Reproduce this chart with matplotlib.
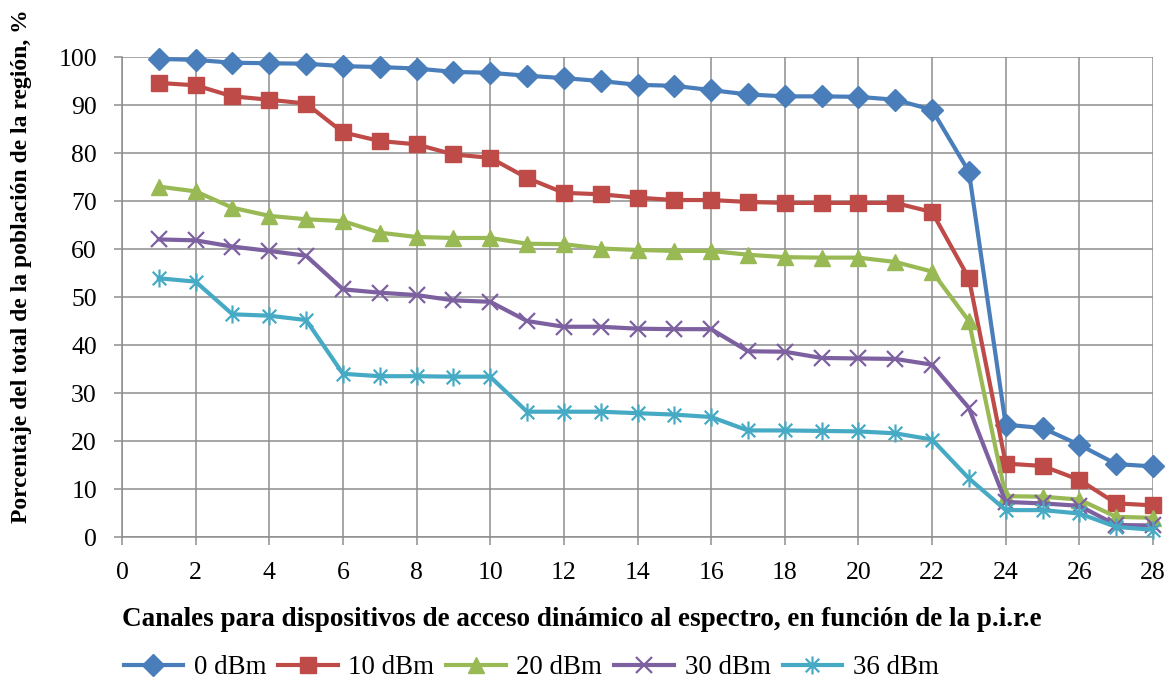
import matplotlib
matplotlib.use("Agg")
import matplotlib.pyplot as plt
from matplotlib.path import Path

# Channel index (1..28) and share of the region's population covered, per EIRP level
channels = list(range(1, 29))

dbm_0 = [99.6, 99.4, 98.8, 98.7, 98.6, 98.1, 97.9, 97.6, 96.9, 96.7,
         96.1, 95.6, 95.0, 94.2, 94.0, 93.1, 92.2, 91.8, 91.8, 91.7,
         91.1, 89.0, 76.1, 23.4, 22.7, 19.2, 15.2, 14.7]
dbm_10 = [94.6, 94.1, 91.8, 91.1, 90.3, 84.3, 82.5, 81.8, 79.7, 79.0,
          74.8, 71.7, 71.4, 70.7, 70.2, 70.2, 69.8, 69.6, 69.6, 69.6,
          69.6, 67.7, 53.9, 15.3, 14.8, 11.9, 7.0, 6.6]
dbm_20 = [73.0, 72.0, 68.6, 66.9, 66.2, 65.8, 63.4, 62.5, 62.3, 62.3,
          61.1, 61.0, 60.1, 59.8, 59.6, 59.6, 58.8, 58.3, 58.2, 58.2,
          57.3, 55.3, 45.0, 8.5, 8.4, 7.8, 4.2, 4.0]
dbm_30 = [62.0, 61.8, 60.5, 59.6, 58.6, 51.6, 50.9, 50.4, 49.3, 49.0,
          45.0, 43.8, 43.8, 43.4, 43.3, 43.3, 38.7, 38.6, 37.3, 37.2,
          37.1, 35.9, 26.9, 7.3, 7.0, 6.5, 2.5, 2.4]
dbm_36 = [53.9, 53.2, 46.4, 46.1, 45.2, 34.0, 33.5, 33.5, 33.4, 33.4,
          26.1, 26.1, 26.1, 25.8, 25.5, 25.0, 22.2, 22.2, 22.1, 22.0,
          21.6, 20.3, 12.2, 5.6, 5.6, 4.9, 2.1, 1.5]

series_labels = ["0 dBm", "10 dBm", "20 dBm", "30 dBm", "36 dBm"]
x_ticks = list(range(0, 29, 2))
y_ticks = list(range(0, 101, 10))

colors = ["#4A7EBB", "#BE4B48", "#98B954", "#7D60A0", "#46AAC5"]

# asterisk marker: a vertical bar plus an X
star_path = Path(
    [(0, -1), (0, 1), (-0.75, -0.75), (0.75, 0.75), (-0.75, 0.75), (0.75, -0.75)],
    [Path.MOVETO, Path.LINETO, Path.MOVETO, Path.LINETO, Path.MOVETO, Path.LINETO],
)

styles = [
    dict(marker="D", markersize=11),
    dict(marker="s", markersize=12),
    dict(marker="^", markersize=12),
    dict(marker="x", markersize=11, markeredgewidth=1.6),
    dict(marker=star_path, markersize=13, markeredgewidth=1.6),
]

plt.rcParams["font.family"] = ["Liberation Serif", "DejaVu Serif"]

fig = plt.figure(figsize=(11.72, 6.84), dpi=100)
ax = fig.add_axes([122 / 1172, 1 - 537 / 684, (1153 - 122) / 1172, (537 - 57) / 684])

for values, label, color, st in zip([dbm_0, dbm_10, dbm_20, dbm_30, dbm_36],
                                    series_labels, colors, styles):
    ax.plot(channels, values, color=color, lw=3.0, label=label,
            markerfacecolor=color, markeredgecolor=color, clip_on=False, zorder=3, **st)

ax.set_xlim(0, 28)
ax.set_ylim(0, 100)
ax.set_xticks(x_ticks)
ax.set_yticks(y_ticks)
ax.grid(True, color="#8E8E8E", lw=1.1)
ax.set_axisbelow(True)
for side in ["top", "right"]:
    ax.spines[side].set_visible(False)
for side in ["left", "bottom"]:
    ax.spines[side].set_color("#8E8E8E")
    ax.spines[side].set_linewidth(1.1)
ax.tick_params(axis="both", colors="#8E8E8E", labelcolor="black", length=6,
               width=1.1, labelsize=18.5)
ax.tick_params(axis="x", pad=12)
ax.tick_params(axis="y", pad=12)

fig.text(22 / 1172, 1 - 266 / 684,
         "Porcentaje del total de la población de la región, %",
         rotation=90, ha="center", va="center", fontsize=17, fontweight="bold")
fig.text(582 / 1172, 1 - 620 / 684,
         "Canales para dispositivos de acceso dinámico al espectro, en función de la p.i.r.e",
         ha="center", va="center", fontsize=19.5, fontweight="bold")

handles, labels = ax.get_legend_handles_labels()
fig.legend(handles, labels, loc="center", bbox_to_anchor=(531 / 1172, 1 - 668 / 684),
           ncol=5, frameon=False, fontsize=19.4, handlelength=2.2, columnspacing=0.45,
           handletextpad=0.4, borderpad=0, borderaxespad=0)

fig.savefig("out.png", dpi=100, facecolor="white")
